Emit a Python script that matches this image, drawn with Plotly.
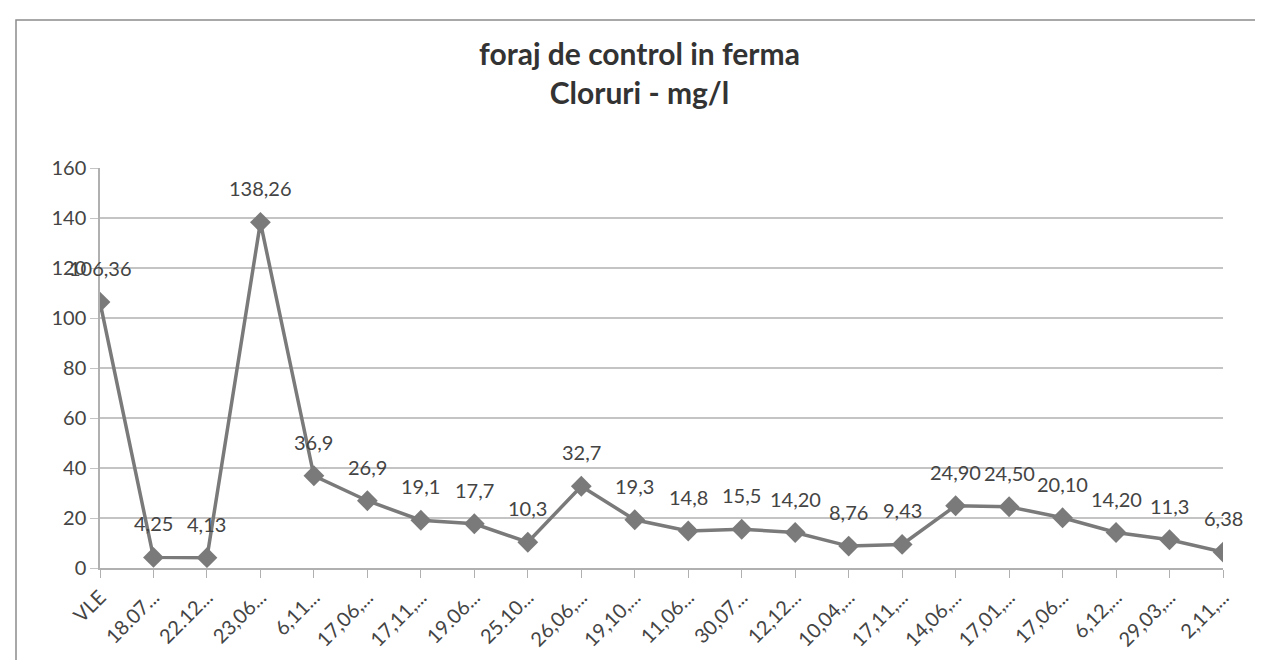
import plotly.graph_objects as go

# sampling dates (as shown, truncated) and chloride values in mg/l
date_labels = ["VLE", "18.07...", "22.12...", "23,06...", "6,11...", "17,06,...",
               "17,11,...", "19.06...", "25.10...", "26,06,...", "19,10,...",
               "11,06...", "30,07...", "12,12...", "10,04,...", "17,11,...",
               "14,06,...", "17,01,...", "17,06...", "6,12,...", "29,03,...",
               "2,11,..."]
cloruri = [106.36, 4.25, 4.13, 138.26, 36.9, 26.9, 19.1, 17.7, 10.3, 32.7,
           19.3, 14.8, 15.5, 14.20, 8.76, 9.43, 24.90, 24.50, 20.10, 14.20,
           11.3, 6.38]
value_labels = ["106,36", "4,25", "4,13", "138,26", "36,9", "26,9", "19,1",
                "17,7", "10,3", "32,7", "19,3", "14,8", "15,5", "14,20", "8,76",
                "9,43", "24,90", "24,50", "20,10", "14,20", "11,3", "6,38"]
y_ticks = [0, 20, 40, 60, 80, 100, 120, 140, 160]

positions = list(range(len(date_labels)))
grey = "#7a7a7a"
text_col = "#444444"
font = "Lato, 'Open Sans', sans-serif"

fig = go.Figure()
fig.add_trace(go.Scatter(
    x=positions,
    y=cloruri,
    mode="lines+markers",
    line=dict(color=grey, width=3.5),
    marker=dict(symbol="diamond", size=16, color=grey),
    showlegend=False,
    hoverinfo="x+y",
))

# data labels above each point
for xp, yv, lab in zip(positions, cloruri, value_labels):
    fig.add_annotation(x=xp, y=yv, text=lab, showarrow=False,
                       yshift=34, font=dict(size=20, color=text_col, family=font))

fig.update_layout(
    width=1263, height=660,
    paper_bgcolor="white", plot_bgcolor="white",
    margin=dict(l=92, r=48, t=160, b=100),
    title=dict(
        text="<b>foraj de control in ferma</b><br><b>Cloruri - mg/l</b>",
        x=0.5, xanchor="center", y=0.914, yanchor="top",
        font=dict(size=30, color="#333333", family=font),
    ),
    font=dict(family=font, color=text_col),
    xaxis=dict(
        tickmode="array", tickvals=positions, ticktext=date_labels,
        tickangle=-45, tickfont=dict(size=20, color=text_col),
        range=[0, len(date_labels) - 1],
        showgrid=False, zeroline=False,
        showline=True, linecolor="#b0b0b0", linewidth=1.5,
        ticks="outside", ticklen=8, tickcolor="#b0b0b0",
    ),
    yaxis=dict(
        tickmode="array", tickvals=y_ticks,
        range=[0, 160],
        tickfont=dict(size=20, color=text_col),
        showgrid=True, gridcolor="#c4c4c4", gridwidth=1.5,
        zeroline=False,
        showline=True, linecolor="#b0b0b0", linewidth=1.5,
        ticks="outside", ticklen=8, tickcolor="#c4c4c4",
    ),
)

# outer chart frame
fig.add_shape(type="rect", xref="paper", yref="paper",
              x0=(8 - 92) / 1123, x1=(1255 - 92) / 1123,
              y0=(560 - 655) / 400, y1=(560 - 12) / 400,
              line=dict(color="#8c8c8c", width=1.5))

fig.write_html("out.html")
